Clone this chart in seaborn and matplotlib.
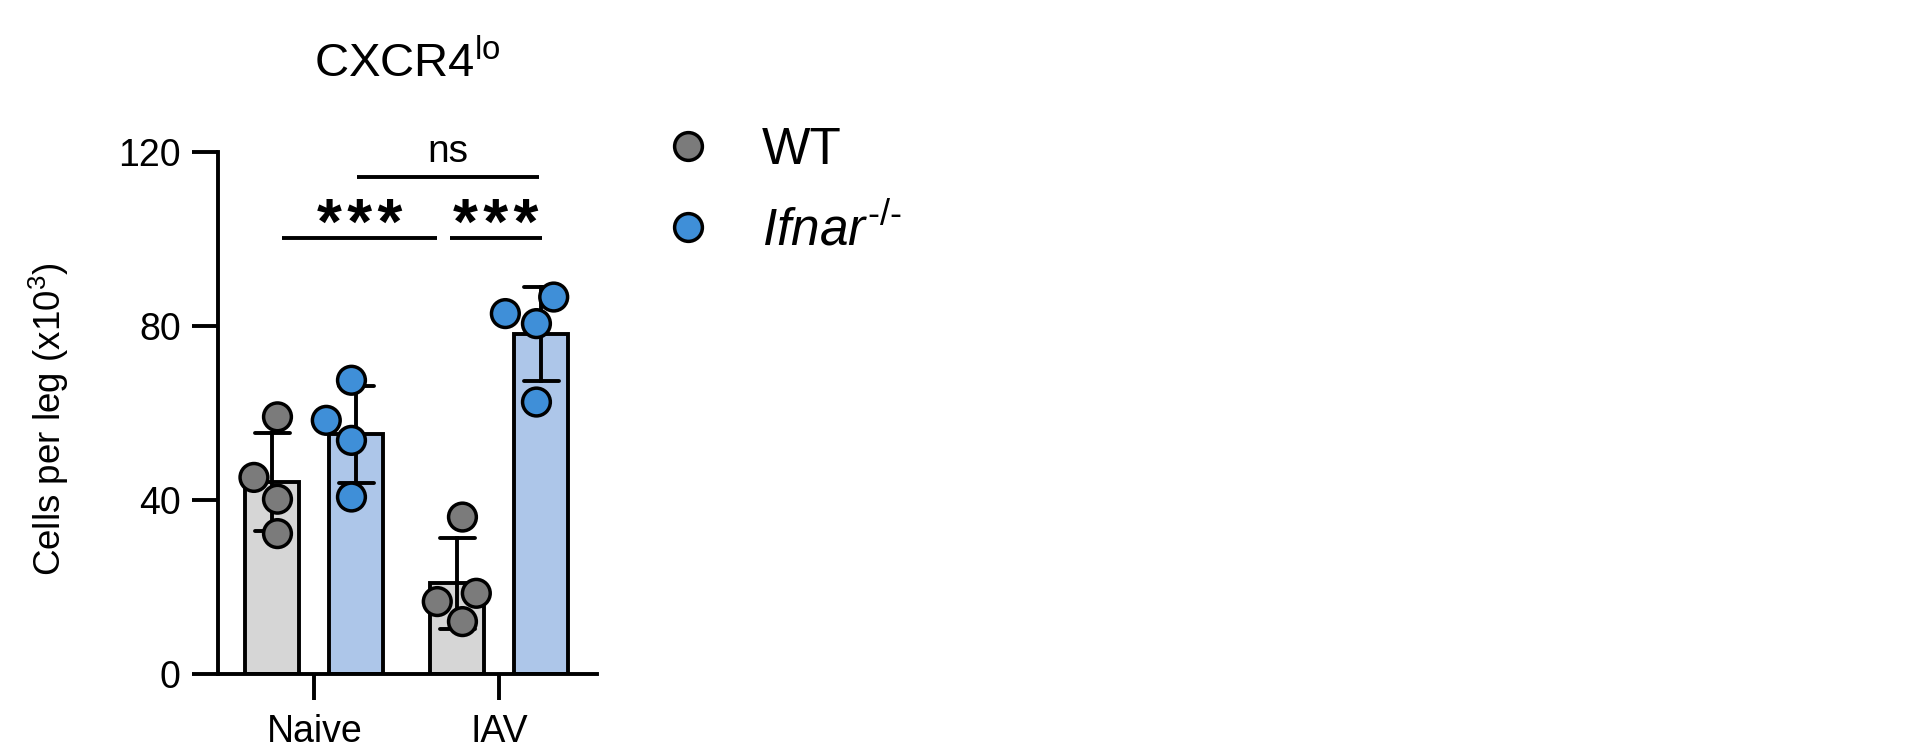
import numpy as np
import pandas as pd
import matplotlib
matplotlib.use("Agg")
import matplotlib.pyplot as plt
from matplotlib.lines import Line2D
import seaborn as sns

# values (cells per leg, x10^3)
conditions = ["Naive", "IAV"]
genotypes = ["WT", "Ifnar"]
naive_wt = [59.1, 45.2, 40.2, 32.3]
naive_ifnar = [67.5, 58.3, 53.7, 40.7]
iav_wt = [36.1, 18.6, 16.7, 12.1]
iav_ifnar = [86.6, 82.8, 80.5, 62.5]
yticks = [0, 40, 80, 120]
legend_labels = ["WT", r"$\mathit{Ifnar}^{\text{-/-}}$"]

# significance brackets: x from, x to, height, label
brackets = [(-0.177, 0.661, 100.2, "***"),
            (0.732, 1.228, 100.2, "***"),
            (0.228, 1.215, 114.1, "ns")]

bar_colors = {"WT": "#d6d6d6", "Ifnar": "#adc6e9"}
dot_colors = {"WT": "#7b7b7b", "Ifnar": "#3f8fd8"}

df = pd.DataFrame({
    "condition": np.repeat(conditions, 8),
    "genotype": np.tile(np.repeat(genotypes, 4), 2),
    "cells": naive_wt + naive_ifnar + iav_wt + iav_ifnar,
})

sns.set_style("ticks")
plt.rcParams["font.family"] = ["Liberation Sans", "DejaVu Sans"]
plt.rcParams["mathtext.fontset"] = "custom"
plt.rcParams["mathtext.rm"] = "Liberation Sans"
plt.rcParams["mathtext.it"] = "Liberation Sans:italic"
plt.rcParams["mathtext.bf"] = "Liberation Sans:bold"
for k in ["text.color", "axes.labelcolor", "xtick.color", "ytick.color", "axes.edgecolor"]:
    plt.rcParams[k] = "black"

lw = 2.8

fig = plt.figure(figsize=(19.2, 7.49), dpi=100)
ax = fig.add_axes([0.1135, 0.0997, 0.1974, 0.698])

sns.barplot(data=df, x="condition", y="cells", hue="genotype",
            order=conditions, hue_order=genotypes, palette=bar_colors,
            saturation=1, width=0.908, gap=0.357, errorbar="sd", capsize=0.37,
            edgecolor="black", linewidth=lw,
            err_kws={"color": "black", "linewidth": lw},
            legend=False, ax=ax)
sns.swarmplot(data=df, x="condition", y="cells", hue="genotype",
              order=conditions, hue_order=genotypes, palette=dot_colors,
              dodge=True, size=20, edgecolor="black", linewidth=2.5,
              legend=False, zorder=4, ax=ax)

sns.despine(ax=ax)
ax.set_xlim(-0.522, 1.527)
ax.set_ylim(0, 120)
ax.set_yticks(yticks)
ax.tick_params(axis="both", length=18.7, width=lw, labelsize=27, color="black")
ax.tick_params(axis="y", pad=8)
ax.tick_params(axis="x", pad=10)
for s in ["left", "bottom"]:
    ax.spines[s].set_linewidth(lw)
ax.set_xlabel("")
ax.set_ylabel(r"Cells per leg (x10$^{\mathregular{3}}$)", fontsize=26.5)
ax.yaxis.set_label_coords(-0.388, 0.488)

for x0, x1, y, lab in brackets:
    ax.plot([x0, x1], [y, y], color="black", lw=lw, clip_on=False, zorder=5,
            solid_capstyle="butt")
    if lab == "ns":
        ax.text((x0 + x1) / 2, y + 3.5, lab, ha="center", va="baseline",
                fontsize=28, clip_on=False)
    else:
        spaced = "\u200a".join(lab)
        ax.text((x0 + x1) / 2, y - 1.4, spaced, ha="center", va="baseline",
                fontsize=46, fontweight="bold", clip_on=False)

fig.text(0.2122, 0.897, r"CXCR4$^{\mathregular{lo}}$", ha="center", va="baseline",
         fontsize=34)

handles = [Line2D([], [], ls="none", marker="o", markersize=20,
                  markerfacecolor=dot_colors[g], markeredgecolor="black",
                  markeredgewidth=2.5) for g in genotypes]
fig.legend(handles, legend_labels, loc="upper left", bbox_to_anchor=(662 / 1920, 0.832),
           frameon=False, fontsize=37, handlelength=1.0, handletextpad=0.94,
           labelspacing=0.58, borderpad=0, borderaxespad=0)

fig.savefig("out.png", dpi=100)
